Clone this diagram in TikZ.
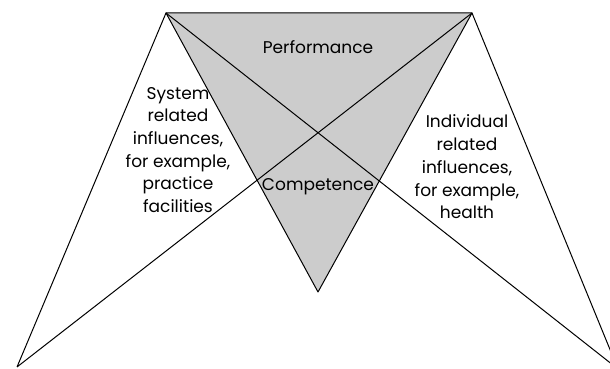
\documentclass[tikz,border=0pt]{standalone}
\usepackage{fontspec}
\setmainfont{Poppins}
\begin{document}
\begin{tikzpicture}[x=1pt,y=1pt,
  edge/.style={draw=black,line width=1pt,line join=round},
  lbl/.style={align=center,font=\fontsize{17}{22.7}\selectfont,inner sep=0pt}]
\useasboundingbox (0,0) rectangle (610,369);
\clip (0,0) rectangle (610,369);
\coordinate (TL) at (166,356);
\coordinate (TR) at (472,356);
\coordinate (B) at (318,77);
\coordinate (BL) at (17,2);
\coordinate (BR) at (618,0);
\fill[gray!40] (TL) -- (TR) -- (B) -- cycle;
\draw[edge] (TL) -- (TR) -- (B) -- cycle;
\draw[edge] (BL) -- (TL) -- (BR) -- (TR) -- (BL);
\node[lbl] (perf) at (318,322) {Performance};
\node[lbl] (comp) at (318,182) {Competence};
\node[lbl] (sys) at (178,219) {System\\related\\influences,\\for example,\\practice\\facilities};
\node[lbl] (ind) at (467,202) {Individual\\related\\influences,\\for example,\\health};
\end{tikzpicture}
\end{document}
